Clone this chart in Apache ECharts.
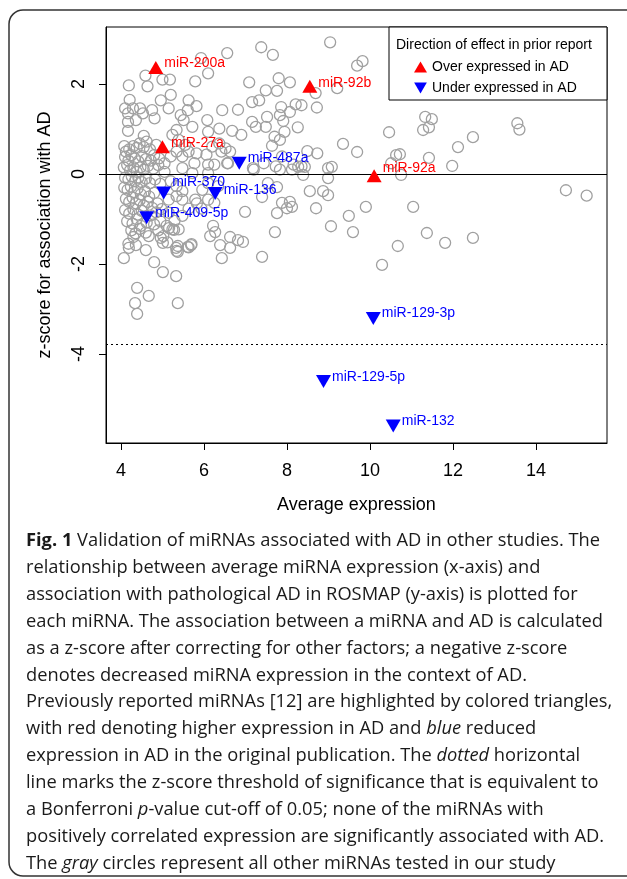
<!DOCTYPE html>
<html>
<head>
<meta charset="UTF-8">
<title>miRNA z-score vs expression</title>
<style>
  html, body { margin: 0; padding: 0; background: #fff; }
  #main { position: absolute; left: 0; top: 0; width: 627px; height: 879px; }
  #caption {
    position: absolute; left: 26px; top: 526px;
    font-family: "Open Sans", sans-serif; font-size: 18.3px; line-height: 26.9px;
    color: #1a1a1a; white-space: nowrap;
  }
  #caption b { font-weight: 700; }
</style>
</head>
<body>
<div id="main"></div>
<div id="caption">
<b>Fig. 1</b> Validation of miRNAs associated with AD in other studies. The<br>
relationship between average miRNA expression (x-axis) and<br>
association with pathological AD in ROSMAP (y-axis) is plotted for<br>
each miRNA. The association between a miRNA and AD is calculated<br>
as a z-score after correcting for other factors; a negative z-score<br>
denotes decreased miRNA expression in the context of AD.<br>
Previously reported miRNAs [12] are highlighted by colored triangles,<br>
with red denoting higher expression in AD and <i>blue</i> reduced<br>
expression in AD in the original publication. The <i>dotted</i> horizontal<br>
line marks the z-score threshold of significance that is equivalent to<br>
a Bonferroni <i>p</i>-value cut-off of 0.05; none of the miRNAs with<br>
positively correlated expression are significantly associated with AD.<br>
The <i>gray</i> circles represent all other miRNAs tested in our study
</div>
<script src="https://cdn.jsdelivr.net/npm/echarts@6/dist/echarts.min.js"></script>
<script>
// gray circles: [average expression, z-score]
var otherPoints = [
  [9.04,2.93],[7.38,2.82],[7.66,2.65],[6.56,2.69],[5.93,2.58],[9.69,2.41],[9.82,2.51],[4.59,2.19],[4.19,1.97],[4.64,1.95],
  [5.0,2.1],[5.18,2.1],[6.1,2.24],[5.79,2.06],[7.09,2.04],[7.8,2.13],[8.07,2.04],[7.49,1.86],[7.76,1.85],[8.69,1.8],
  [9.21,1.91],[5.2,1.76],[4.21,1.65],[4.96,1.64],[5.63,1.64],[4.1,1.46],[4.29,1.46],[4.46,1.46],[4.75,1.42],[4.53,1.35],
  [4.17,1.35],[5.15,1.46],[5.82,1.51],[5.61,1.42],[7.16,1.6],[7.33,1.64],[7.86,1.49],[8.21,1.55],[8.35,1.53],[8.72,1.48],
  [6.44,1.42],[6.82,1.43],[5.44,1.31],[4.81,1.24],[4.36,1.2],[4.17,1.16],[5.51,1.2],[6.08,1.2],[7.16,1.16],[7.52,1.27],
  [7.83,1.31],[8.07,1.38],[7.91,1.18],[11.33,1.27],[11.49,1.22],[13.55,1.13],[11.28,0.98],[11.42,1.04],[13.6,0.99],[10.46,0.93],
  [12.48,0.82],[4.17,0.96],[4.55,0.85],[5.34,0.98],[5.24,0.87],[5.72,1.05],[6.1,0.94],[6.37,1.01],[6.68,0.96],[6.9,0.87],
  [7.25,1.05],[7.49,1.05],[7.7,0.83],[7.94,0.94],[8.26,1.04],[9.35,0.67],[9.69,0.49],[12.12,0.6],[10.63,0.42],[10.72,0.44],
  [11.42,0.36],[11.98,0.18],[8.49,0.51],[8.73,0.46],[7.83,0.76],[7.64,0.63],[9.08,0.16],[10.75,-0.02],[10.51,0.24],
  [5.39,0.76],[5.55,0.65],[5.63,0.5],[5.82,0.46],[6.06,0.43],[6.2,0.61],[6.37,0.68],[6.52,0.57],[6.63,0.5],[6.42,0.5],
  [6.1,0.21],[6.25,0.21],[6.56,0.24],[5.77,0.24],[5.48,0.39],[5.34,0.5],[5.2,0.39],[5.05,0.24],[5.48,0.13],[7.2,0.1],
  [7.44,0.24],[7.73,0.17],[7.88,0.39],[7.83,0.1],[8.16,0.21],[8.35,0.17],[8.12,0.1],[6.58,0.24],[7.18,0.13],[8.27,0.16],
  [8.43,0.16],[8.99,0.13],[8.39,-0.02],[8.99,-0.09],
  [4.08,0.62],[4.12,0.5],[4.2,0.55],[4.3,0.62],[4.38,0.58],[4.45,0.68],[4.55,0.6],[4.62,0.72],[4.7,0.55],[4.85,0.65],
  [4.1,0.38],[4.18,0.3],[4.25,0.42],[4.33,0.35],[4.42,0.28],[4.5,0.4],[4.6,0.33],[4.72,0.3],[4.8,0.42],[4.92,0.35],
  [4.07,0.15],[4.15,0.2],[4.22,0.08],[4.3,0.15],[4.38,0.05],[4.47,0.15],[4.55,0.1],[4.65,0.18],[4.78,0.12],[4.9,0.2],
  [5.05,0.05],[4.1,-0.08],[4.18,-0.12],[4.26,-0.05],[4.34,-0.15],[4.42,-0.08],[4.5,-0.18],[4.6,-0.1],[4.7,-0.2],[4.82,-0.12],
  [4.95,-0.22],[4.08,-0.3],[4.16,-0.35],[4.24,-0.28],[4.32,-0.4],[4.4,-0.32],[4.48,-0.45],[4.58,-0.38],[4.68,-0.5],[4.8,-0.42],
  [4.12,-0.55],[4.2,-0.62],[4.28,-0.52],[4.36,-0.65],[4.45,-0.58],[4.55,-0.7],[4.65,-0.62],[4.75,-0.75],[4.88,-0.65],[4.1,-0.8],
  [4.2,-0.88],[4.3,-0.78],[4.4,-0.9],[4.5,-0.82],[4.72,-0.92],[4.85,-0.85],[4.98,-0.78],[4.15,-1.05],[4.28,-1.1],[4.38,-1.0],
  [4.48,-1.15],[4.62,-1.08],[4.8,-1.12],[4.95,-1.05],[4.25,-1.25],[4.35,-1.32],[4.45,-1.22],[4.3,-1.4],[4.18,-1.55],[4.6,-1.3],
  [4.9,-1.25],
  [5.2,-0.16],[5.34,-0.27],[5.48,-0.38],[5.15,-0.57],[5.34,-0.49],[5.48,-0.57],[5.63,-0.77],[5.48,-0.93],[5.15,-0.86],[5.29,-1.04],
  [5.1,-1.15],[5.24,-1.23],[5.39,-1.23],[5.02,-1.38],[5.12,-1.52],[5.79,-0.57],[5.72,0.02],[6.1,0.02],[6.1,-0.2],[6.34,-0.27],
  [5.96,-0.35],[5.83,-0.65],[5.94,-0.77],[6.1,-0.57],[6.25,-0.64],[6.22,-1.15],[6.15,-1.38],[5.7,-1.56],[5.63,-1.63],[5.34,-1.71],
  [5.37,-1.6],[7.54,-0.2],[7.76,-0.29],[7.4,-0.51],[8.55,-0.38],[8.87,-0.38],[8.99,-0.47],[7.88,-0.64],[8.07,-0.62],[8.0,-0.76],
  [8.12,-0.73],[7.76,-0.87],[8.7,-0.76],[6.99,-0.84],[7.71,-1.29],[9.06,-1.16],[6.39,-1.58],[6.63,-1.4],[6.63,-1.64],[6.82,-1.47],
  [6.94,-1.51],[6.27,-1.29],[6.43,-1.87],[7.4,-1.84],
  [4.07,-1.87],[4.19,-1.64],[4.36,-1.58],[4.6,-1.69],[4.8,-1.96],[5.01,-2.18],[5.33,-2.27],[4.39,-2.53],[4.67,-2.71],[4.34,-2.87],
  [5.37,-2.87],[4.39,-3.11],[4.67,-1.38],[4.96,-1.42],[5.01,-1.53],[5.33,-1.64],[5.37,-1.73],[5.16,-1.2],[5.28,-1.24],[5.61,-1.62],
  [5.69,-1.58],
  [9.9,-0.73],[11.04,-0.73],[9.49,-0.93],[9.59,-1.29],[11.37,-1.31],[11.81,-1.53],[12.48,-1.42],[10.67,-1.6],[10.29,-2.02],
  [14.72,-0.36],[15.22,-0.48]
];

// previously reported miRNAs
var upNames = ['miR-200a', 'miR-92b', 'miR-27a', 'miR-92a'];
var upX = [4.84, 8.55, 5.0, 10.1];
var upY = [2.37, 1.95, 0.61, -0.04];

var downNames = ['miR-487a', 'miR-370', 'miR-136', 'miR-409-5p', 'miR-129-3p', 'miR-129-5p', 'miR-132'];
var downX = [6.85, 5.03, 6.27, 4.62, 10.08, 8.88, 10.56];
var downY = [0.24, -0.42, -0.43, -0.97, -3.21, -4.61, -5.6];

var xTicks = [4, 6, 8, 10, 12, 14];
var yTicks = [-4, -2, 0, 2];
var threshold = -3.78;

// label nudges (px), style only
var labelShift = {
  'miR-200a': [0, -4], 'miR-92b': [0, -3], 'miR-27a': [0, -3], 'miR-92a': [0, -8],
  'miR-487a': [0, -5], 'miR-370': [0, -11], 'miR-136': [0, -3], 'miR-409-5p': [0, -5],
  'miR-129-3p': [0, -5], 'miR-129-5p': [0, -4], 'miR-132': [0, -5]
};

function build(names, xs, ys) {
  return names.map(function (n, i) {
    return { name: n, value: [xs[i], ys[i]], label: { offset: labelShift[n] } };
  });
}

var downTriangle = 'path://M0,0L10,0L5,8.66Z';
var font = 'Liberation Sans, Arial, sans-serif';
var chart = echarts.init(document.getElementById('main'));
var option = {
  animation: false,
  textStyle: { fontFamily: font },
  grid: {
    left: 106, top: 27, right: 20, bottom: 436,
    show: true, borderColor: '#000', borderWidth: 1, backgroundColor: '#fff'
  },
  title: {
    text: 'Direction of effect in prior report',
    left: 391, top: 33,
    textStyle: { fontFamily: font, fontSize: 14, fontWeight: 'normal', color: '#000' }
  },
  legend: {
    orient: 'vertical', left: 409, top: 55,
    itemWidth: 13, itemHeight: 11, itemGap: 7,
    textStyle: { fontFamily: font, fontSize: 14, color: '#000' },
    data: ['Over expressed in AD', 'Under expressed in AD']
  },
  graphic: [
    { type: 'rect', z: 0, silent: true,
      shape: { x: 9, y: 10, width: 650, height: 866, r: 14 },
      style: { fill: 'none', stroke: '#333', lineWidth: 1.5 } },
    { type: 'rect', z: 3, silent: true,
      shape: { x: 389, y: 27, width: 218, height: 73 },
      style: { fill: '#fff', stroke: '#000', lineWidth: 1 } }
  ],
  xAxis: {
    type: 'value', min: 3.64, max: 15.71,
    name: 'Average expression', nameLocation: 'middle', nameGap: 53,
    nameTextStyle: { fontFamily: font, fontSize: 18, color: '#000' },
    axisLine: { show: true, onZero: false, lineStyle: { color: '#000' } },
    axisTick: { show: true, length: 7, customValues: xTicks, lineStyle: { color: '#000' } },
    axisLabel: { customValues: xTicks, fontSize: 18, color: '#000', margin: 19 },
    splitLine: { show: false }
  },
  yAxis: {
    type: 'value', min: -5.98, max: 3.27,
    name: 'z-score for association with AD', nameLocation: 'middle', nameGap: 52,
    nameTextStyle: { fontFamily: font, fontSize: 18, color: '#000' },
    axisLine: { show: true, onZero: false, lineStyle: { color: '#000' } },
    axisTick: { show: true, length: 7, customValues: yTicks, lineStyle: { color: '#000' } },
    axisLabel: { customValues: yTicks, fontSize: 18, color: '#000', rotate: 90, margin: 18 },
    splitLine: { show: false }
  },
  series: [
    {
      name: 'Other miRNAs', type: 'scatter', z: 2,
      symbol: 'circle', symbolSize: 11,
      itemStyle: { color: 'rgba(0,0,0,0)', borderColor: '#a0a0a0', borderWidth: 1.3, opacity: 1 },
      data: otherPoints,
      markLine: {
        silent: true, symbol: 'none', label: { show: false },
        data: [
          { yAxis: 0, lineStyle: { color: '#000', width: 1, type: 'solid' } },
          { yAxis: threshold, lineStyle: { color: '#000', width: 1.2, type: [2, 3] } }
        ]
      }
    },
    {
      name: 'Over expressed in AD', type: 'scatter', z: 5,
      symbol: 'triangle', symbolSize: [15, 13],
      itemStyle: { color: '#ff0000', opacity: 1 },
      label: { show: true, position: 'right', distance: 1, formatter: '{b}',
               color: '#ff0000', fontSize: 14, fontFamily: font },
      data: build(upNames, upX, upY)
    },
    {
      name: 'Under expressed in AD', type: 'scatter', z: 5,
      symbol: downTriangle, symbolSize: [15, 13],
      itemStyle: { color: '#0000ff', opacity: 1 },
      label: { show: true, position: 'right', distance: 1, formatter: '{b}',
               color: '#0000ff', fontSize: 14, fontFamily: font },
      data: build(downNames, downX, downY)
    }
  ]
};
chart.setOption(option);
</script>
</body>
</html>
